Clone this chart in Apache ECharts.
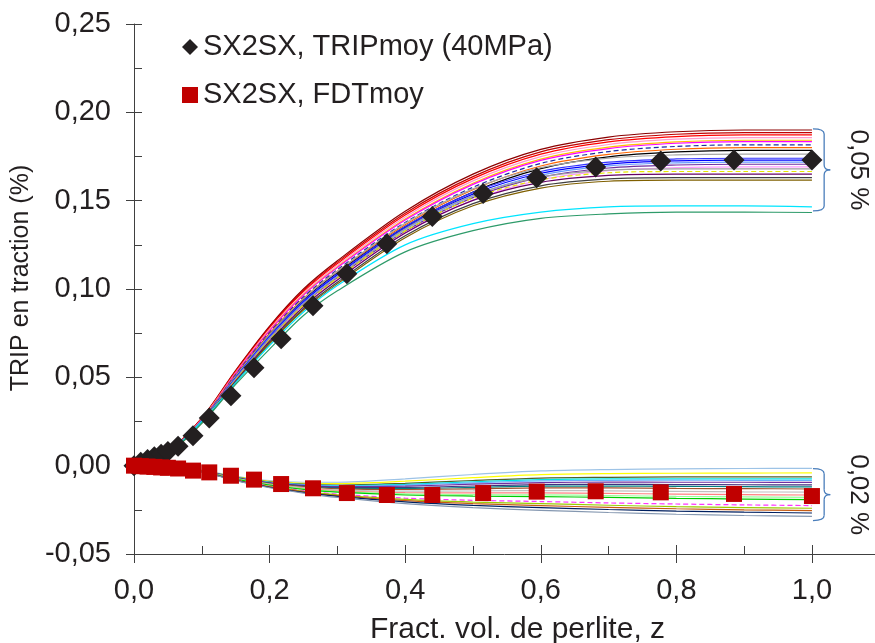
<!DOCTYPE html>
<html>
<head>
<meta charset="utf-8">
<script src="https://cdn.jsdelivr.net/npm/echarts@6/dist/echarts.min.js"></script>
<style>html,body{margin:0;padding:0;background:#fff;}#c{width:875px;height:643px;}</style>
</head>
<body>
<div id="c"></div>
<script>
// ---------- data ----------
const X = [0, 0.05, 0.1, 0.15, 0.2, 0.25, 0.3, 0.4, 0.5, 0.6, 0.7, 0.8, 0.9, 1.0];

// upper bundle (TRIP curves)
const u01 = [0, .0080, .0270, .0540, .0790, .1000, .1160, .1440, .1650, .1790, .1860, .1890, .1900, .1900];
const u02 = [0, .0079, .0268, .0535, .0784, .0992, .1152, .1429, .1636, .1776, .1845, .1876, .1885, .1885];
const u03 = [0, .0079, .0266, .0532, .0779, .0985, .1144, .1419, .1625, .1763, .1833, .1863, .1872, .1872];
const u04 = [0, .0078, .0264, .0527, .0773, .0977, .1135, .1408, .1612, .1749, .1818, .1848, .1857, .1857];
const u05 = [0, .0077, .0262, .0523, .0766, .0969, .1125, .1396, .1599, .1735, .1803, .1833, .1842, .1842];
const u06 = [0, .0077, .0260, .0521, .0763, .0965, .1121, .1390, .1592, .1728, .1795, .1825, .1834, .1834];
const u07 = [0, .0076, .0258, .0516, .0755, .0955, .1110, .1377, .1576, .1711, .1778, .1807, .1816, .1816];
const u08 = [0, .0076, .0256, .0511, .0749, .0947, .1100, .1364, .1562, .1696, .1762, .1791, .1800, .1800];
const u09 = [0, .0075, .0253, .0507, .0743, .0939, .1091, .1353, .1549, .1681, .1748, .1776, .1785, .1785];
const u10 = [0, .0075, .0257, .0507, .0743, .0944, .1100, .1372, .1567, .1687, .1741, .1759, .1763, .1763];
const u11 = [0, .0074, .0253, .0500, .0733, .0932, .1086, .1354, .1547, .1665, .1718, .1736, .1740, .1740];
const u12 = [0, .0073, .0252, .0497, .0729, .0926, .1079, .1345, .1537, .1655, .1707, .1725, .1729, .1729];
const u13 = [0, .0073, .0250, .0494, .0724, .0920, .1072, .1337, .1527, .1644, .1697, .1714, .1718, .1718];
const u14 = [0, .0073, .0248, .0490, .0719, .0914, .1065, .1327, .1517, .1633, .1685, .1702, .1706, .1706];
const u15 = [0, .0072, .0246, .0486, .0713, .0906, .1055, .1316, .1503, .1618, .1670, .1687, .1691, .1691];
const u16 = [0, .0072, .0250, .0489, .0717, .0916, .1070, .1341, .1529, .1633, .1673, .1680, .1680, .1680];
const u17 = [0, .0072, .0248, .0485, .0711, .0907, .1061, .1329, .1515, .1618, .1658, .1665, .1665, .1665];
const u18 = [0, .0071, .0246, .0480, .0705, .0899, .1051, .1317, .1502, .1604, .1643, .1650, .1650, .1650];
const u19 = [0, .0070, .0243, .0474, .0696, .0888, .1038, .1301, .1483, .1584, .1623, .1630, .1630, .1630];
const u20 = [0, .0069, .0241, .0470, .0690, .0881, .1029, .1290, .1471, .1571, .1610, .1616, .1616, .1616];
const u21 = [0, .0070, .0250, .0470, .0680, .0870, .1020, .1250, .1370, .1435, .1465, .1470, .1470, .1465];
const u22 = [0, .0070, .0240, .0460, .0660, .0850, .0990, .1210, .1330, .1400, .1425, .1435, .1435, .1433];

// lower bundle (FDT curves)
const l01 = [0, -.0004, -.0027, -.0060, -.0085, -.0094, -.0094, -.0075, -.0050, -.0030, -.0022, -.0018, -.0016, -.0015];
const l02 = [0, -.0004, -.0028, -.0062, -.0089, -.0100, -.0102, -.0088, -.0068, -.0051, -.0045, -.0043, -.0042, -.0041];
const l03 = [0, -.0004, -.0028, -.0065, -.0092, -.0105, -.0110, -.0100, -.0084, -.0070, -.0066, -.0064, -.0064, -.0064];
const l04 = [0, -.0004, -.0029, -.0066, -.0094, -.0107, -.0113, -.0106, -.0091, -.0079, -.0075, -.0075, -.0075, -.0075];
const l05 = [0, -.0005, -.0029, -.0066, -.0095, -.0109, -.0116, -.0110, -.0097, -.0086, -.0083, -.0082, -.0083, -.0083];
const l06 = [0, -.0005, -.0029, -.0067, -.0097, -.0112, -.0119, -.0116, -.0105, -.0096, -.0093, -.0094, -.0094, -.0095];
const l07 = [0, -.0005, -.0030, -.0069, -.0099, -.0115, -.0124, -.0123, -.0115, -.0107, -.0106, -.0107, -.0108, -.0109];
const l08 = [0, -.0005, -.0030, -.0070, -.0100, -.0118, -.0127, -.0129, -.0123, -.0116, -.0116, -.0117, -.0119, -.0120];
const l09 = [0, -.0005, -.0030, -.0071, -.0102, -.0120, -.0131, -.0135, -.0131, -.0126, -.0126, -.0129, -.0130, -.0132];
const l10 = [0, -.0005, -.0031, -.0072, -.0105, -.0124, -.0137, -.0144, -.0143, -.0141, -.0143, -.0145, -.0148, -.0150];
const l11 = [0, -.0005, -.0031, -.0074, -.0107, -.0128, -.0142, -.0153, -.0154, -.0154, -.0157, -.0161, -.0164, -.0166];
const l12 = [0, -.0005, -.0032, -.0075, -.0109, -.0131, -.0146, -.0160, -.0164, -.0165, -.0169, -.0174, -.0177, -.0180];
const l13 = [0, -.0005, -.0032, -.0076, -.0110, -.0134, -.0150, -.0166, -.0172, -.0175, -.0180, -.0185, -.0189, -.0192];
const l14 = [0, -.0006, -.0033, -.0079, -.0116, -.0141, -.0161, -.0184, -.0196, -.0203, -.0211, -.0217, -.0222, -.0226];
const l15 = [0, -.0006, -.0034, -.0081, -.0118, -.0145, -.0165, -.0191, -.0206, -.0215, -.0224, -.0232, -.0237, -.0241];
const l16 = [0, -.0006, -.0034, -.0082, -.0120, -.0148, -.0170, -.0198, -.0215, -.0226, -.0236, -.0244, -.0250, -.0254];
const l17 = [0, -.0006, -.0034, -.0083, -.0122, -.0151, -.0174, -.0205, -.0225, -.0237, -.0248, -.0257, -.0263, -.0268];
const l18 = [0, -.0006, -.0035, -.0085, -.0125, -.0155, -.0180, -.0215, -.0238, -.0253, -.0265, -.0275, -.0282, -.0287];

// mean points
const zMean = [0, 0.01, 0.02, 0.03, 0.04, 0.05, 0.065, 0.087, 0.111, 0.143, 0.177, 0.217, 0.264, 0.314, 0.373, 0.44, 0.515, 0.594, 0.681, 0.777, 0.885, 1.0];
const tripMoy = [0, 0.002, 0.0035, 0.005, 0.0065, 0.008, 0.011, 0.017, 0.027, 0.0396, 0.0554, 0.0718, 0.0905, 0.1086, 0.1256, 0.141, 0.154, 0.163, 0.169, 0.1725, 0.173, 0.173];
const fdtMoy = [0, -0.0003, -0.0005, -0.0007, -0.001, -0.0012, -0.0016, -0.0028, -0.0038, -0.0057, -0.0079, -0.0104, -0.0128, -0.0155, -0.0166, -0.0166, -0.0155, -0.0147, -0.0145, -0.0151, -0.016, -0.0172];

const xTicks = [0, 0.2, 0.4, 0.6, 0.8, 1.0];
const braceUpper = [0.1906, 0.1442];
const braceLower = [-0.0017, -0.0311];
const braceLabels = ['0,05 %', '0,02 %'];

const upperSet = [u01,u02,u03,u04,u05,u06,u07,u08,u09,u10,u11,u12,u13,u14,u15,u16,u17,u18,u19,u20,u21,u22];
const lowerSet = [l01,l02,l03,l04,l05,l06,l07,l08,l09,l10,l11,l12,l13,l14,l15,l16,l17,l18];

// ---------- styles ----------
const upperColors = ['#8b0000','#c00000','#ff0000','#ff99cc','#ffc000','#ff00ff','#1f2a9f','#ff6600','#000000','#a6a6a6','#3333ff','#0000ff','#6699ff','#7030a0','#ff99ff','#a0a0a0','#e6e600','#660066','#404040','#806000','#00e5ff','#2e9b6a'];
const upperDash = {6:true, 16:true};
const lowerColors = ['#9dc3e6','#ffff00','#4f6228','#00e5e5','#66b2ff','#7030a0','#403080','#008080','#a0522d','#c0c0c0','#ff8080','#99ff99','#00cc00','#ff33ff','#99cc00','#c55a11','#002060','#8497b0'];
const lowerDash = {13:true};

const FONT = "'Liberation Sans',Arial,sans-serif";
const TXT = '#231f20';
const AX = '#404040';

const chart = echarts.init(document.getElementById('c'), null, {renderer: 'canvas'});

const series = [];
upperSet.forEach((arr, i) => {
  series.push({
    type: 'line', xAxisIndex: 0, yAxisIndex: 0, smooth: 0.3, showSymbol: false, silent: true,
    data: X.map((x, k) => [x, arr[k]]),
    lineStyle: {color: upperColors[i], width: 1.2, type: upperDash[i] ? [5, 3] : 'solid'}, z: 2
  });
});
lowerSet.forEach((arr, i) => {
  series.push({
    type: 'line', xAxisIndex: 0, yAxisIndex: 0, smooth: 0.3, showSymbol: false, silent: true,
    data: X.map((x, k) => [x, arr[k]]),
    lineStyle: {color: lowerColors[i], width: 1.2, type: lowerDash[i] ? [5, 3] : 'solid'}, z: 2
  });
});
series.push({
  name: 'SX2SX, TRIPmoy (40MPa)', type: 'scatter', xAxisIndex: 0, yAxisIndex: 0,
  symbol: 'diamond', symbolSize: 21, itemStyle: {color: TXT, opacity: 1},
  data: zMean.map((x, k) => [x, tripMoy[k]]), z: 5
});
series.push({
  name: 'SX2SX, FDTmoy', type: 'scatter', xAxisIndex: 0, yAxisIndex: 0,
  symbol: 'rect', symbolSize: 16, itemStyle: {color: '#c00000', opacity: 1},
  data: zMean.map((x, k) => [x, fdtMoy[k]]), z: 6
});

const XMAX = 1.093;
const axisCommonX = {type: 'value', min: 0, max: XMAX, interval: 0.2};
const axisCommonY = {type: 'value', min: -0.05, max: 0.25, interval: 0.05};

const option = {
  animation: false,
  backgroundColor: '#fff',
  grid: {left: 134, right: 0, top: 24, bottom: 89, containLabel: false, outerBoundsMode: 'none'},
  legend: {
    data: [{name: 'SX2SX, TRIPmoy (40MPa)', icon: 'diamond'}, {name: 'SX2SX, FDTmoy', icon: 'rect'}],
    orient: 'vertical', left: 177, top: 27, itemWidth: 16, itemHeight: 16, itemGap: 18,
    textStyle: {fontSize: 29, lineHeight: 30, fontFamily: FONT, color: TXT},
    selectedMode: false
  },
  xAxis: [
    Object.assign({}, axisCommonX, {
      position: 'bottom',
      name: 'Fract. vol. de perlite, z', nameLocation: 'middle', nameGap: 61,
      nameTextStyle: {fontSize: 30, fontFamily: FONT, color: TXT, padding: [0, 0, 0, 26]},
      axisLine: {onZero: false, lineStyle: {color: AX, width: 1}},
      axisTick: {inside: false, length: 9, lineStyle: {color: AX}},
      axisLabel: {fontSize: 29, fontFamily: FONT, color: TXT, margin: 22,
        formatter: v => xTicks.some(t => Math.abs(t - v) < 1e-9) ? v.toFixed(1).replace('.', ',') : ''},
      splitLine: {show: false}
    }),
    Object.assign({}, axisCommonX, {
      position: 'bottom',
      axisLine: {show: false, onZero: false},
      axisTick: {inside: true, length: 9, lineStyle: {color: AX}},
      minorTick: {show: true, splitNumber: 2, length: 8, lineStyle: {color: AX}},
      axisLabel: {show: false}, splitLine: {show: false}
    })
  ],
  yAxis: [
    Object.assign({}, axisCommonY, {
      position: 'left',
      name: 'TRIP en traction (%)', nameLocation: 'middle', nameGap: 78, nameRotate: 90,
      nameTextStyle: {fontSize: 25, fontFamily: FONT, color: TXT, padding: [0, 0, 0, 22]},
      axisLine: {onZero: false, lineStyle: {color: AX, width: 1}},
      axisTick: {inside: false, length: 8, lineStyle: {color: AX}},
      axisLabel: {fontSize: 29, fontFamily: FONT, color: TXT, margin: 23,
        formatter: v => v.toFixed(2).replace('.', ',').replace('-0,00', '0,00')},
      splitLine: {show: false}
    }),
    Object.assign({}, axisCommonY, {
      position: 'left',
      axisLine: {show: false, onZero: false},
      axisTick: {inside: true, length: 8, lineStyle: {color: AX}},
      minorTick: {show: true, splitNumber: 2, length: 8, lineStyle: {color: AX}},
      axisLabel: {show: false}, splitLine: {show: false}
    })
  ],
  series: series
};
chart.setOption(option);

// braces annotations positioned via data coordinates
const BR = '#4a7ebb';
function braceElems(yTopVal, yBotVal) {
  const p = (x, y) => chart.convertToPixel({gridIndex: 0}, [x, y]);
  const a = p(1.0015, yTopVal), c = p(1.0180, yBotVal);
  const tipX = p(1.0270, 0)[0];
  const x0 = a[0], x1 = c[0], yt = a[1], yb = c[1], ym = (yt + yb) / 2, r = 5;
  const st = {stroke: BR, lineWidth: 1.3, fill: null};
  return [
    {type: 'bezierCurve', shape: {x1: x0, y1: yt, cpx1: x1, cpy1: yt, x2: x1, y2: yt + r}, style: st, z: 10},
    {type: 'line', shape: {x1: x1, y1: yt + r, x2: x1, y2: ym - r}, style: st, z: 10},
    {type: 'bezierCurve', shape: {x1: x1, y1: ym - r, cpx1: x1, cpy1: ym, x2: tipX, y2: ym}, style: st, z: 10},
    {type: 'bezierCurve', shape: {x1: tipX, y1: ym, cpx1: x1, cpy1: ym, x2: x1, y2: ym + r}, style: st, z: 10},
    {type: 'line', shape: {x1: x1, y1: ym + r, x2: x1, y2: yb - r}, style: st, z: 10},
    {type: 'bezierCurve', shape: {x1: x1, y1: yb - r, cpx1: x1, cpy1: yb, x2: x0, y2: yb}, style: st, z: 10}
  ];
}
const graphics = [];
[[braceUpper, braceLabels[0]], [braceLower, braceLabels[1]]].forEach(([br, lab]) => {
  braceElems(br[0], br[1]).forEach(e => graphics.push(e));
  const lp = chart.convertToPixel({gridIndex: 0}, [1.068, (br[0] + br[1]) / 2]);
  graphics.push({type: 'text', x: lp[0], y: lp[1], rotation: -Math.PI / 2,
    style: {text: lab, fontSize: 26, fontFamily: FONT, fill: TXT, align: 'center', verticalAlign: 'middle'}, z: 10});
});
chart.setOption({graphic: graphics});
</script>
</body>
</html>
